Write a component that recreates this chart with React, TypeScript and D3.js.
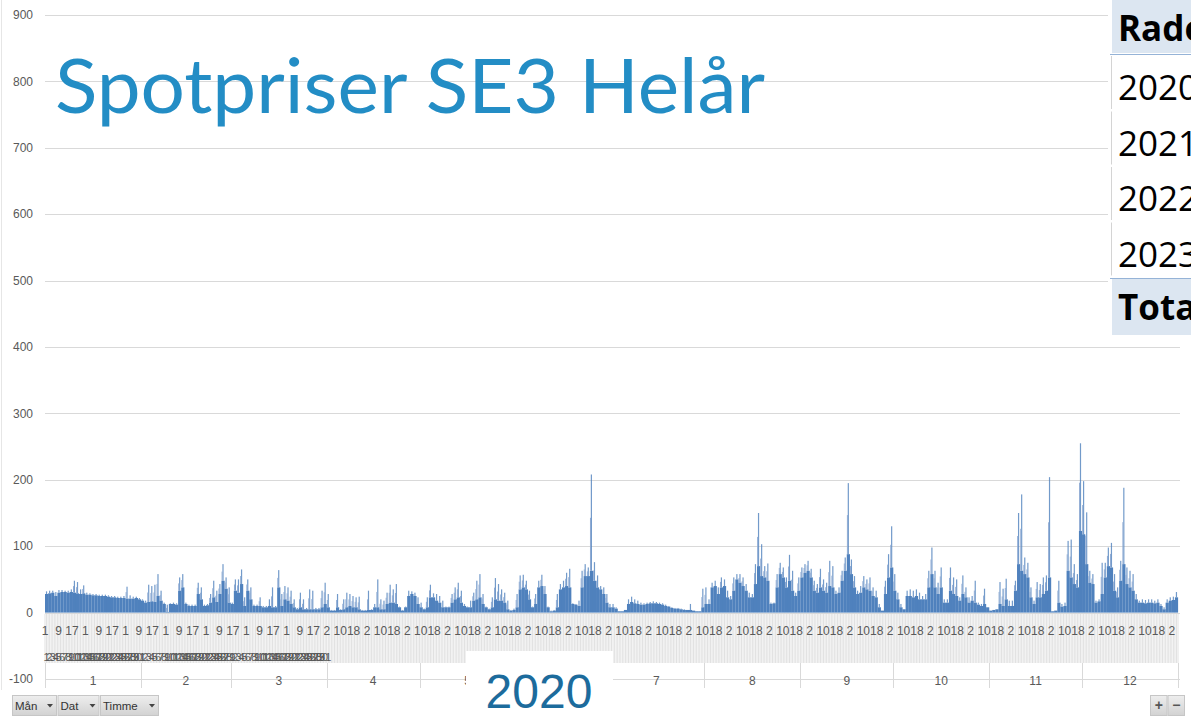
import React, { useRef, useEffect } from 'react';
import * as d3 from 'd3';

// Spotpriser SE3 2020, one value pair per day (daily level + daily top hour)
const monthLabels = ['1', '2', '3', '4', '5', '6', '7', '8', '9', '10', '11', '12'];
const monthDays = [31, 29, 31, 30, 31, 30, 31, 31, 30, 31, 30, 31];

const janBase = [28, 29, 30, 25, 30, 31, 31, 30, 31, 30, 29, 28, 29, 27, 27, 26, 26, 25, 25, 25, 24, 23, 23, 22, 22, 22, 21, 21, 21, 22, 20];
const janPeak = [32, 33, 33, 31, 34, 34, 33, 33, 35, 48, 46, 35, 41, 30, 29, 28, 28, 27, 27, 27, 26, 25, 25, 24, 24, 25, 39, 26, 24, 24, 22];
const febBase = [18, 15, 16, 17, 16, 25, 18, 13, 1, 13, 13, 12, 33, 38, 13, 10, 10, 10, 28, 20, 10, 11, 15, 23, 16, 28, 48, 36, 15];
const febPeak = [20, 18, 42, 40, 42, 58, 33, 15, 12, 14, 15, 14, 53, 58, 15, 12, 12, 12, 45, 38, 12, 13, 28, 48, 33, 43, 73, 53, 38];
const marBase = [13, 33, 30, 43, 10, 33, 20, 10, 10, 10, 8, 8, 10, 8, 8, 38, 10, 20, 18, 13, 8, 5, 8, 5, 5, 5, 5, 5, 5, 8, 13];
const marPeak = [15, 50, 50, 65, 23, 50, 38, 12, 12, 23, 10, 10, 20, 38, 10, 64, 28, 40, 38, 33, 20, 7, 30, 20, 7, 35, 33, 7, 7, 33, 45];
const aprBase = [8, 3, 3, 8, 4, 5, 8, 10, 8, 8, 5, 3, 3, 4, 4, 8, 8, 5, 5, 13, 15, 15, 13, 8, 3, 8, 25, 28, 25, 13];
const aprPeak = [28, 4, 4, 28, 5, 20, 30, 28, 25, 23, 24, 4, 4, 33, 5, 13, 50, 20, 18, 30, 42, 35, 43, 9, 4, 9, 33, 32, 30, 23];
const mayBase = [8, 5, 8, 23, 23, 18, 15, 8, 8, 8, 15, 20, 23, 15, 10, 8, 8, 18, 20, 23, 13, 8, 5, 8, 20, 18, 18, 15, 5, 3, 4];
const mayPeak = [15, 6, 23, 42, 29, 28, 25, 18, 9, 9, 28, 38, 45, 33, 13, 9, 18, 30, 48, 58, 28, 9, 6, 23, 52, 43, 35, 30, 18, 4, 6];
const junBase = [8, 35, 38, 35, 20, 8, 13, 38, 40, 28, 8, 2, 3, 8, 35, 38, 40, 38, 13, 12, 10, 38, 55, 55, 63, 48, 38, 35, 28, 15];
const junPeak = [28, 56, 57, 48, 33, 9, 28, 48, 57, 40, 9, 3, 4, 28, 43, 48, 60, 66, 14, 13, 18, 63, 73, 68, 208, 76, 56, 40, 38, 28];
const julBase = [8, 8, 6, 2, 2, 4, 13, 16, 14, 13, 12, 12, 13, 14, 14, 14, 13, 12, 10, 9, 7, 6, 6, 5, 4, 4, 4, 3, 2, 2, 8];
const julPeak = [13, 13, 8, 2, 2, 4, 20, 24, 20, 18, 15, 14, 15, 16, 17, 16, 15, 14, 12, 10, 8, 7, 7, 6, 5, 4, 13, 3, 2, 2, 36];
const augBase = [13, 13, 38, 40, 28, 38, 40, 23, 20, 33, 50, 45, 40, 33, 23, 23, 43, 70, 55, 53, 48, 13, 14, 38, 58, 53, 38, 48, 33, 25, 33];
const augPeak = [38, 20, 45, 48, 38, 53, 50, 33, 25, 53, 58, 58, 53, 43, 30, 28, 73, 150, 103, 70, 74, 15, 15, 58, 75, 68, 53, 87, 63, 30, 53];
const sepBase = [53, 60, 63, 53, 33, 30, 38, 33, 30, 40, 38, 28, 30, 48, 63, 88, 58, 38, 28, 30, 38, 35, 33, 25, 23, 8, 3, 28, 53, 68];
const sepPeak = [68, 73, 78, 66, 48, 43, 66, 50, 45, 78, 70, 33, 38, 63, 83, 195, 80, 55, 33, 40, 55, 50, 53, 38, 33, 13, 3, 48, 88, 130];
const octBase = [33, 20, 8, 5, 25, 25, 23, 25, 20, 20, 20, 38, 58, 38, 28, 38, 15, 15, 33, 28, 25, 18, 28, 23, 15, 18, 15, 12, 10, 13, 8];
const octPeak = [58, 30, 13, 5, 33, 35, 33, 35, 30, 25, 28, 63, 98, 63, 45, 68, 20, 20, 68, 53, 50, 23, 56, 38, 23, 25, 48, 15, 13, 36, 8];
const novBase = [3, 4, 5, 13, 10, 20, 10, 10, 33, 73, 63, 58, 53, 23, 13, 23, 23, 28, 33, 53, 2, 3, 15, 9, 10, 63, 53, 43, 38, 123];
const novPeak = [3, 4, 5, 46, 36, 51, 18, 18, 48, 150, 178, 83, 75, 38, 18, 46, 43, 53, 56, 204, 2, 3, 48, 13, 15, 108, 110, 73, 58, 255];
const decBase = [118, 73, 45, 43, 15, 17, 28, 53, 70, 68, 33, 23, 48, 73, 43, 38, 33, 20, 15, 15, 14, 15, 15, 14, 15, 10, 5, 15, 18, 19, 23];
const decPeak = [198, 151, 63, 58, 18, 20, 75, 75, 98, 105, 58, 38, 78, 188, 68, 63, 58, 28, 18, 20, 19, 20, 20, 18, 20, 13, 8, 20, 23, 24, 31];

const dailyBase = [janBase, febBase, marBase, aprBase, mayBase, junBase, julBase, augBase, sepBase, octBase, novBase, decBase];
const dailyPeak = [janPeak, febPeak, marPeak, aprPeak, mayPeak, junPeak, julPeak, augPeak, sepPeak, octPeak, novPeak, decPeak];

const yTicks = [-100, 0, 100, 200, 300, 400, 500, 600, 700, 800, 900];

// Excel shows every 104th hour label
const hourTickStep = 104;
const hourTickLabels = [
  '1', '9', '17', '1', '9', '17', '1', '9', '17', '1', '9', '17', '1', '9', '17', '1', '9', '17', '1', '9', '17',
  '2', '10', '18', '2', '10', '18', '2', '10', '18', '2', '10', '18', '2', '10', '18', '2', '10', '18', '2', '10', '18',
  '2', '10', '18', '2', '10', '18', '2', '10', '18', '2', '10', '18', '2', '10', '18', '2', '10', '18', '2', '10', '18',
  '2', '10', '18', '2', '10', '18', '2', '10', '18', '2', '10', '18', '2', '10', '18', '2', '10', '18', '2', '10', '18',
  '2'
];
// day numbers are only drawn for the first quarter
const labelledDayMonths = 3;

const yearLabel = '2020';
const titleText = 'Spotpriser SE3 Helår';
const tableHeader = 'Radetiketter';
const tableRows = ['2020', '2021', '2022', '2023'];
const tableTotal = 'Totalsumma';
const fieldButtons = ['Mån', 'Dat', 'Timme'];

const W = 1191;
const H = 721;

const App: React.FC = () => {
  const svgRef = useRef<SVGSVGElement>(null);

  useEffect(() => {
    if (!svgRef.current) return;
    const svg = d3.select(svgRef.current);
    svg.selectAll('*').remove();

    const base = dailyBase.flat();
    const peak = dailyPeak.flat();
    const totalHours = base.length * 24;

    const x = d3.scaleLinear().domain([0, totalHours]).range([45, 1178]);
    const y = d3.scaleLinear().domain([-100, 900]).range([679, 15]);

    const grey = '#d9d9d9';
    const labelColor = '#595959';
    const barColor = '#4f81bd';

    const defs = svg.append('defs');
    const grad = defs.append('linearGradient').attr('id', 'btn').attr('x1', 0).attr('y1', 0).attr('x2', 0).attr('y2', 1);
    grad.append('stop').attr('offset', '0%').attr('stop-color', '#eeeeee');
    grad.append('stop').attr('offset', '100%').attr('stop-color', '#d2d2d2');

    svg.append('rect').attr('width', W).attr('height', H).attr('fill', '#fff');
    svg.append('line').attr('x1', 1.5).attr('x2', 1.5).attr('y1', 0).attr('y2', 690)
      .attr('stroke', '#e6e6e6');

    // gridlines + y labels
    svg.append('g').selectAll('line').data(yTicks).enter().append('line')
      .attr('x1', 45).attr('x2', 1180)
      .attr('y1', d => Math.round(y(d)) + 0.5).attr('y2', d => Math.round(y(d)) + 0.5)
      .attr('stroke', grey);
    svg.append('g').selectAll('text').data(yTicks).enter().append('text')
      .attr('x', 33).attr('y', d => y(d)).attr('dy', '0.35em')
      .attr('text-anchor', 'end')
      .style('font', '12px "Liberation Sans", Arial, sans-serif')
      .attr('fill', labelColor)
      .text(d => d);

    // category separators under the axis (half-day steps)
    const halfDays = d3.range(base.length * 2 + 1);
    svg.append('g').selectAll('line').data(halfDays).enter().append('line')
      .attr('x1', d => x(d * 12)).attr('x2', d => x(d * 12))
      .attr('y1', 614).attr('y2', 663)
      .attr('stroke', grey).attr('stroke-width', 0.8);

    // bars
    const days = base.map((b, i) => ({ i, b, p: peak[i] }));
    svg.append('g').selectAll('rect').data(days).enter().append('rect')
      .attr('x', d => x(d.i * 24))
      .attr('width', d => x((d.i + 1) * 24) - x(d.i * 24) + 0.1)
      .attr('y', d => y(d.b))
      .attr('height', d => y(0) - y(d.b))
      .attr('fill', barColor);
    svg.append('g').selectAll('rect').data(days.filter(d => d.p > d.b)).enter().append('rect')
      .attr('x', d => x(d.i * 24 + 12) - 0.6)
      .attr('width', 1.2)
      .attr('y', d => y(d.p))
      .attr('height', d => y(d.b) - y(d.p))
      .attr('fill', barColor).attr('opacity', 0.8);
    svg.append('g').selectAll('rect').data(days.filter(d => d.p - d.b > 10)).enter().append('rect')
      .attr('x', d => x(d.i * 24 + 5) - 0.5)
      .attr('width', 1)
      .attr('y', d => y(d.b + (d.p - d.b) * 0.55))
      .attr('height', d => y(d.b) - y(d.b + (d.p - d.b) * 0.55))
      .attr('fill', '#8eaad3');

    // hour labels
    svg.append('g').selectAll('text').data(hourTickLabels).enter().append('text')
      .attr('x', (d, k) => x(k * hourTickStep + 0.5))
      .attr('y', 635)
      .attr('text-anchor', 'middle')
      .style('font', '12px "Liberation Sans", Arial, sans-serif')
      .attr('fill', labelColor)
      .text(d => d);

    // day numbers (crowded) for the first months
    const monthStart = monthDays.map((_, m) => d3.sum(monthDays.slice(0, m)));
    const dayLabels: { x: number; t: string }[] = [];
    for (let m = 0; m < labelledDayMonths; m++) {
      for (let d = 0; d < monthDays[m]; d++) {
        dayLabels.push({ x: x((monthStart[m] + d) * 24 + 12), t: String(d + 1) });
      }
    }
    svg.append('g').selectAll('text').data(dayLabels).enter().append('text')
      .attr('x', d => d.x).attr('y', 661)
      .attr('text-anchor', 'middle')
      .style('font', '11px "Liberation Sans", Arial, sans-serif')
      .attr('fill', labelColor)
      .text(d => d.t);

    // month group labels
    const monthEdges = [...monthStart, base.length];
    svg.append('g').selectAll('line').data(monthEdges).enter().append('line')
      .attr('x1', d => Math.round(x(d * 24)) + 0.5).attr('x2', d => Math.round(x(d * 24)) + 0.5)
      .attr('y1', 663).attr('y2', 688)
      .attr('stroke', grey);
    svg.append('g').selectAll('text').data(monthLabels).enter().append('text')
      .attr('x', (d, m) => x((monthStart[m] + monthDays[m] / 2) * 24))
      .attr('y', 685)
      .attr('text-anchor', 'middle')
      .style('font', '12px "Liberation Sans", Arial, sans-serif')
      .attr('fill', labelColor)
      .text(d => d);

    // title
    svg.append('text')
      .attr('x', 55).attr('y', 113)
      .attr('textLength', 710).attr('lengthAdjust', 'spacingAndGlyphs')
      .style('font', '76px Lato, "Open Sans", sans-serif')
      .attr('fill', '#238dc5')
      .text(titleText);

    // year box
    svg.append('rect').attr('x', 466).attr('y', 651).attr('width', 147).attr('height', 70).attr('fill', '#fff');
    svg.append('text')
      .attr('x', 539).attr('y', 708)
      .attr('text-anchor', 'middle')
      .style('font', '48px "Liberation Sans", Arial, sans-serif')
      .attr('fill', '#1c6b9c')
      .text(yearLabel);

    // pivot field buttons
    const btnW = [44, 41, 58];
    let bx = 12;
    fieldButtons.forEach((label, i) => {
      const g = svg.append('g').attr('transform', `translate(${bx},695)`);
      g.append('rect').attr('x', 0.5).attr('y', 0.5).attr('width', btnW[i]).attr('height', 20)
        .attr('fill', 'url(#btn)').attr('stroke', '#c6c6c6');
      g.append('text').attr('x', 3).attr('y', 14.5)
        .style('font', '11.5px "Liberation Sans", Arial, sans-serif')
        .attr('fill', '#333').text(label);
      const tx = btnW[i] - 9;
      g.append('path').attr('d', `M${tx},9 L${tx + 6},9 L${tx + 3},12.5 Z`).attr('fill', '#444');
      bx += btnW[i] + 1.5;
    });

    // zoom buttons
    ['+', '−'].forEach((s, i) => {
      const g = svg.append('g').attr('transform', `translate(${1150 + i * 17.5},695)`);
      g.append('rect').attr('x', 0.5).attr('y', 0.5).attr('width', 16.5).attr('height', 20)
        .attr('fill', 'url(#btn)').attr('stroke', '#c6c6c6');
      g.append('text').attr('x', 8.75).attr('y', 15).attr('text-anchor', 'middle')
        .style('font', 'bold 14px "Liberation Sans", Arial, sans-serif')
        .attr('fill', '#555').text(s);
    });

    // pivot table at the right edge
    const tbl = svg.append('g');
    const tableFont = '35px "Open Sans", "Noto Sans", sans-serif';
    tbl.append('rect').attr('x', 1108).attr('y', 0).attr('width', 90).attr('height', 337).attr('fill', '#fff');
    tbl.append('rect').attr('x', 1112).attr('y', 0).attr('width', 85).attr('height', 53).attr('fill', '#dce6f1');
    tbl.append('text').attr('x', 1118).attr('y', 41)
      .style('font', 'bold ' + tableFont).attr('fill', '#000').text(tableHeader);
    tbl.append('line').attr('x1', 1110).attr('x2', 1191).attr('y1', 54.5).attr('y2', 54.5).attr('stroke', '#95b3d7');
    tableRows.forEach((r, i) => {
      const top = 56 + i * 55.5;
      tbl.append('line').attr('x1', 1111.5).attr('x2', 1111.5).attr('y1', top).attr('y2', top + 53)
        .attr('stroke', '#d4d4d4');
      tbl.append('text').attr('x', 1118).attr('y', top + 44)
        .style('font', tableFont).attr('fill', '#000').text(r);
    });
    tbl.append('line').attr('x1', 1110).attr('x2', 1191).attr('y1', 278.5).attr('y2', 278.5).attr('stroke', '#95b3d7');
    tbl.append('rect').attr('x', 1112).attr('y', 279).attr('width', 85).attr('height', 56).attr('fill', '#dce6f1');
    tbl.append('text').attr('x', 1118).attr('y', 320)
      .style('font', 'bold ' + tableFont).attr('fill', '#000').text(tableTotal);
  }, []);

  return (
    <svg
      ref={svgRef}
      width={W}
      height={H}
      style={{ position: 'absolute', left: 0, top: 0, display: 'block' }}
    />
  );
};

export default App;
